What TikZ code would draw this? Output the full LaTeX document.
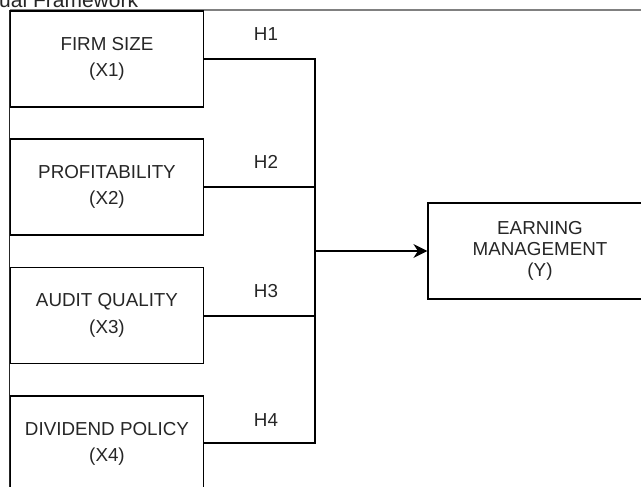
\documentclass[tikz,border=0pt]{standalone}
\usepackage{fontspec}
\setmainfont{Liberation Sans}
\usetikzlibrary{arrows.meta}
\begin{document}
\begin{tikzpicture}[x=1pt,y=-1pt,
  varbox/.style={draw=black,line width=1.2pt,minimum width=192.3pt,minimum height=96pt,
    inner sep=0pt,align=center,text=black!85,font=\fontsize{18.8}{26.7}\selectfont},
  ybox/.style={draw=black,line width=1.2pt,minimum width=224pt,minimum height=96pt,
    inner sep=0pt,align=center,text=black!85,font=\fontsize{18.8}{21}\selectfont},
  hlab/.style={anchor=base,inner sep=0pt,text=black!85,font=\fontsize{18.8}{21}\selectfont},
  conn/.style={draw=black,line width=1.2pt},
  frameline/.style={line width=1.2pt}]
\useasboundingbox (0,0) rectangle (641,487);
\clip (0,0) rectangle (641,487);
% frame
\draw[frameline,draw=black!50] (10,10) -- (645,10);
\draw[frameline,draw=black!85] (9.6,10) -- (9.6,495);
% title (cut off at top)
\node[anchor=base west,inner sep=0pt,text=black!85,font=\fontsize{21}{24}\selectfont] (title) at (-1,7.6) {ual Framework};
% boxes
\node[varbox] (b1) at (107,59) {FIRM SIZE\\(X1)};
\node[varbox] (b2) at (107,187) {PROFITABILITY\\(X2)};
\node[varbox] (b3) at (107,315.5) {AUDIT QUALITY\\(X3)};
\node[varbox] (b4) at (107,444) {DIVIDEND POLICY\\(X4)};
\node[ybox] (y) at (540,251) {EARNING\\MANAGEMENT\\(Y)};
% junction
\coordinate (jt) at (315,59);
\coordinate (jb) at (315,443);
\coordinate (j2) at (315,187);
\coordinate (j3) at (315,316);
\coordinate (jm) at (315,251);
\draw[conn] (b1.east) -- (jt) -- (jb) -- (b4.east |- jb);
\draw[conn] (b2.east |- j2) -- (j2);
\draw[conn] (b3.east |- j3) -- (j3);
\draw[conn,-{Stealth[length=14pt,width=14pt,inset=4.5pt]}] (jm) -- (y.west |- jm);
% labels
\node[hlab] (h1) at (266,40.7) {H1};
\node[hlab] (h2) at (266,168.3) {H2};
\node[hlab] (h3) at (266,297.3) {H3};
\node[hlab] (h4) at (266,426) {H4};
\end{tikzpicture}
\end{document}
